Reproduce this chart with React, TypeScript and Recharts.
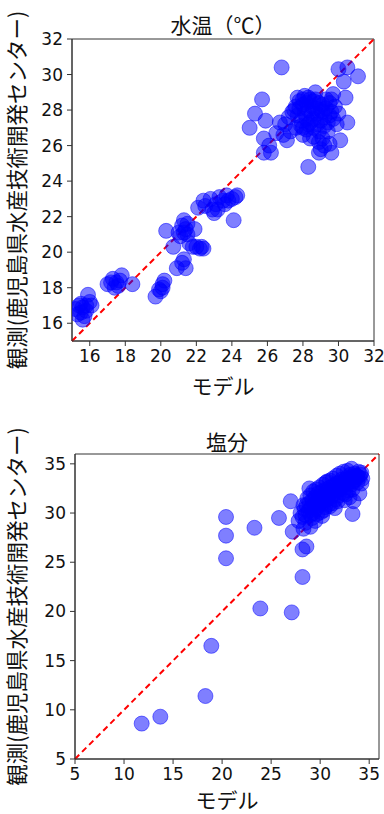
import React from 'react';
import { ScatterChart, Scatter, XAxis, YAxis, ReferenceLine, ReferenceArea, Label } from 'recharts';

// 水温: model vs observed
const tempModel = [
  15.2, 15.4, 15.5, 15.6, 15.7, 15.8, 15.9, 16.0, 15.6, 15.3, 15.5, 15.8, 16.1,
  17.0, 17.3, 17.5, 17.6, 17.8, 17.4, 17.7, 18.4, 17.2,
  19.7, 19.9, 20.1, 20.2, 20.0, 20.1,
  20.3, 20.7, 20.9, 21.2, 21.3, 21.4, 21.0, 21.2, 21.3, 21.1, 21.4, 21.5, 21.6, 21.8, 22.0, 22.2, 22.3, 22.4, 21.9, 21.3, 21.5, 22.1, 22.4,
  22.5, 22.8, 23.0, 23.1, 23.3, 23.5, 23.7, 23.8, 24.0, 24.2, 24.3, 23.2, 24.1, 22.9, 23.6,
  26.8, 25.7, 25.3, 25.0, 25.9, 25.8, 26.1, 25.8, 26.2, 26.9, 27.1, 28.3, 28.9, 29.6, 30.1, 30.5, 30.4, 30.0, 30.5, 31.1, 30.3, 28.7, 29.7,
  27.0, 27.2, 27.4, 27.6, 27.8, 28.0, 28.2, 28.4, 28.1, 27.9, 28.3, 28.6, 28.8, 29.0, 29.2, 29.4, 29.6, 29.8, 29.5, 29.1,
  28.9, 28.6, 28.9, 29.2, 29.0, 28.2, 27.6, 27.3, 28.5, 29.7, 30.0, 28.0, 27.7, 28.7, 29.3, 26.7, 26.5,
  27.5, 27.8, 28.0, 28.3, 28.5, 28.7, 28.9, 29.1, 29.3, 29.5, 27.9, 28.2, 28.4, 28.6, 28.8, 29.0, 29.2, 29.4,
  28.1, 28.3, 27.7, 28.6, 29.6, 29.9, 28.0, 28.4, 29.1, 29.5,
];
const tempObs = [
  16.8, 17.0, 16.6, 16.9, 16.4, 17.0, 17.6, 17.2, 16.2, 16.5, 17.1, 16.7, 17.0,
  18.2, 18.5, 18.3, 18.1, 18.7, 18.0, 18.4, 18.2, 18.3,
  17.5, 17.9, 18.2, 18.4, 17.8, 18.0,
  21.2, 20.3, 19.1, 19.4, 19.6, 19.1, 21.1, 21.5, 21.8, 20.9, 21.3, 21.0, 20.5, 20.3, 20.3, 20.2, 20.3, 20.2, 21.3, 21.1, 21.6, 22.5, 22.9,
  22.6, 23.0, 22.2, 22.7, 23.1, 22.9, 23.2, 22.9, 23.0, 23.1, 23.2, 22.4, 21.8, 22.4, 22.7,
  30.4, 28.6, 27.8, 27.0, 27.4, 26.4, 26.0, 25.6, 25.6, 26.6, 26.3, 24.8, 25.6, 25.6, 26.3, 27.3, 28.7, 30.3, 30.4, 29.9, 29.6, 29.0, 28.9,
  27.2, 27.6, 27.9, 28.2, 28.5, 28.6, 28.4, 28.6, 27.8, 27.4, 27.2, 27.5, 27.8, 28.0, 27.6, 27.3, 27.9, 28.2, 28.4, 28.3,
  26.8, 26.5, 26.2, 26.0, 25.8, 26.9, 27.0, 26.8, 28.2, 27.5, 27.8, 27.0, 27.7, 28.6, 28.6, 27.3, 26.7,
  28.0, 28.1, 28.3, 28.0, 27.8, 28.1, 28.4, 27.9, 28.1, 27.7, 27.1, 27.5, 27.3, 27.0, 27.2, 27.4, 27.1, 26.8,
  28.8, 28.7, 28.7, 28.5, 28.6, 27.2, 26.6, 26.4, 26.4, 26.1,
];

// 塩分: model vs observed
const saltModel = [
  11.8, 13.7, 18.3, 18.9, 23.9, 27.1, 20.4, 20.4, 20.4, 23.3, 25.8, 27.0, 28.9, 27.2, 28.2, 28.2, 33.3, 34.0, 28.6, 30.7,
  27.8, 28.0, 28.2, 28.4, 28.5, 28.6, 28.8, 28.9, 29.0, 29.1, 29.2, 29.3, 29.4, 29.5, 29.6, 29.7, 29.8, 29.9, 30.0, 30.1,
  30.2, 30.3, 30.4, 30.5, 30.6, 30.7, 30.8, 30.9, 31.0, 31.1, 31.2, 31.3, 31.4, 31.5, 31.6, 31.7, 31.8, 31.9, 32.0, 32.1,
  32.2, 32.3, 32.4, 32.5, 32.6, 32.7, 32.8, 32.9, 33.0, 33.1, 33.2, 33.3, 33.4, 33.5, 33.6, 33.7, 33.8, 33.9, 34.0, 34.1,
  34.2, 34.3, 33.0, 33.4, 30.2, 29.5, 31.5, 32.5, 28.3, 29.0,
  28.3, 28.7, 29.0, 29.3, 29.6, 29.9, 30.3, 30.6, 31.0, 31.3, 31.7, 32.0, 32.4, 32.8, 33.2,
  28.5, 29.2, 29.7, 30.4, 31.0, 31.8, 32.6, 33.3, 34.2, 30.0, 30.8, 31.6, 32.3, 33.0, 33.8,
];
const saltObs = [
  8.6, 9.3, 11.4, 16.5, 20.3, 19.9, 29.6, 27.7, 25.4, 28.5, 29.5, 31.2, 32.5, 28.1, 26.3, 23.5, 29.9, 32.0, 26.6, 33.2,
  29.2, 30.0, 29.6, 30.4, 29.0, 30.8, 30.2, 31.0, 29.8, 30.6, 31.3, 30.0, 30.9, 31.6, 30.4, 31.2, 32.0, 30.8, 31.5, 30.1,
  32.2, 31.0, 31.8, 30.6, 32.4, 31.4, 32.0, 30.9, 32.6, 31.6, 32.2, 31.0, 32.8, 32.0, 31.4, 33.0, 32.4, 31.8, 33.1, 32.5,
  33.4, 32.8, 32.0, 33.3, 32.6, 33.6, 33.0, 32.3, 33.5, 33.9, 32.9, 33.7, 33.2, 34.0, 33.4, 33.8, 33.1, 34.2, 33.6, 33.9,
  34.1, 33.5, 31.6, 31.2, 29.7, 29.2, 30.5, 31.3, 28.4, 28.6,
  30.8, 31.5, 31.8, 32.2, 32.4, 32.6, 32.9, 33.1, 33.3, 33.5, 33.8, 34.0, 34.2, 34.3, 34.5,
  29.8, 29.5, 29.9, 30.3, 30.7, 31.2, 31.9, 32.4, 33.0, 31.0, 31.7, 32.3, 32.9, 33.2, 33.7,
];

const tempTicks = [16, 18, 20, 22, 24, 26, 28, 30, 32];
const saltTicks = [5, 10, 15, 20, 25, 30, 35];

const tempData = tempModel.map((x, i) => ({ x, y: tempObs[i] }));
const saltData = saltModel.map((x, i) => ({ x, y: saltObs[i] }));

const JP = '"Noto Sans CJK JP", sans-serif';
const NUM = '"DejaVu Sans", sans-serif';
const Y_LABEL = '観測(鹿児島県水産技術開発センター)';

const Dot = (props: any) => (
  <circle
    cx={props.cx}
    cy={props.cy}
    r={7.5}
    fill="#0000ff"
    fillOpacity={0.5}
    stroke="#0000ff"
    strokeOpacity={0.5}
    strokeWidth={1}
  />
);

const tickStyle = { fontSize: 17, fill: '#111', fontFamily: NUM };

interface PanelProps {
  data: { x: number; y: number }[];
  domain: [number, number];
  ticks: number[];
  width: number;
  height: number;
  margin: { top: number; right: number; bottom: number; left: number };
  yWidth: number;
  xHeight: number;
}

function Panel({ data, domain, ticks, width, height, margin, yWidth, xHeight }: PanelProps) {
  return (
    <ScatterChart width={width} height={height} margin={margin}>
      <XAxis
        type="number"
        dataKey="x"
        domain={domain}
        ticks={ticks}
        allowDataOverflow
        height={xHeight}
        tick={tickStyle}
        tickSize={5}
        tickMargin={4}
        stroke="#333"
        interval={0}
      >
        <Label value="モデル" position="insideBottom" offset={6} style={{ fontSize: 21, fill: '#111', fontFamily: JP }} />
      </XAxis>
      <YAxis
        type="number"
        dataKey="y"
        domain={domain}
        ticks={ticks}
        allowDataOverflow
        width={yWidth}
        tick={tickStyle}
        tickSize={5}
        tickMargin={4}
        stroke="#333"
        interval={0}
      >
        <Label
          value={Y_LABEL}
          angle={-90}
          position="insideLeft"
          offset={17}
          style={{ fontSize: 21.5, fill: '#111', fontFamily: JP, textAnchor: 'middle' }}
        />
      </YAxis>
      <ReferenceLine
        segment={[
          { x: domain[0], y: domain[0] },
          { x: domain[1], y: domain[1] },
        ]}
        stroke="#ff0000"
        strokeWidth={2}
        strokeDasharray="6 4"
      />
      <Scatter data={data} shape={<Dot />} isAnimationActive={false} />
      <ReferenceArea x1={domain[0]} x2={domain[1]} y1={domain[0]} y2={domain[1]} fill="none" stroke="#333" strokeWidth={1} />
    </ScatterChart>
  );
}

const titleStyle: React.CSSProperties = {
  position: 'absolute',
  fontFamily: JP,
  fontSize: 21,
  color: '#111',
  textAlign: 'center',
  lineHeight: '26px',
  width: 200,
};

export default function App() {
  return (
    <div style={{ position: 'absolute', left: 0, top: 0, width: 384, height: 814, background: '#fff', overflow: 'hidden' }}>
      <div style={{ ...titleStyle, left: 223 - 100, top: 11 }}>水温（℃）</div>
      <div style={{ position: 'absolute', left: 0, top: 0 }}>
        <Panel
          data={tempData}
          domain={[15, 32]}
          ticks={tempTicks}
          width={384}
          height={400}
          margin={{ top: 39, right: 10, bottom: 0, left: 0 }}
          yWidth={72}
          xHeight={59}
        />
      </div>
      <div style={{ ...titleStyle, left: 227 - 100, top: 428 }}>塩分</div>
      <div style={{ position: 'absolute', left: 0, top: 410 }}>
        <Panel
          data={saltData}
          domain={[5, 36]}
          ticks={saltTicks}
          width={384}
          height={404}
          margin={{ top: 44, right: 5, bottom: 0, left: 0 }}
          yWidth={75}
          xHeight={55}
        />
      </div>
    </div>
  );
}
